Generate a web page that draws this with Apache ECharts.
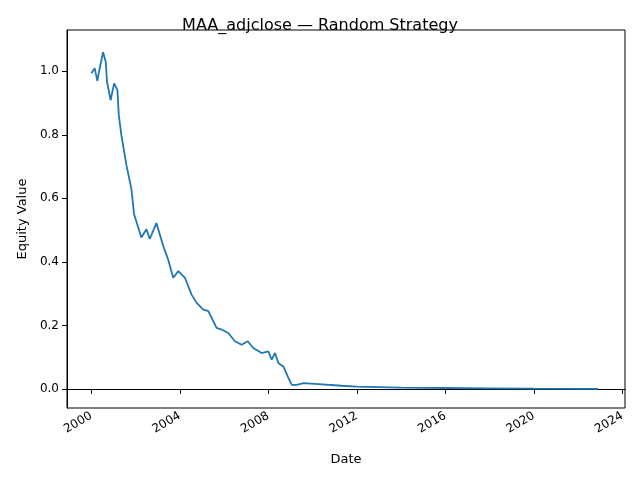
<!DOCTYPE html>
<html>
<head>
<meta charset="utf-8">
<script src="https://cdn.jsdelivr.net/npm/echarts@6/dist/echarts.min.js"></script>
<style>html,body{margin:0;padding:0;background:#fff}#chart{width:640px;height:480px}</style>
</head>
<body>
<div id="chart"></div>
<script>
// equity curve (decimal year, value)
const years = [2000.00, 2000.15, 2000.27, 2000.38, 2000.53, 2000.65, 2000.71, 2000.87, 2001.03, 2001.18,
    2001.24, 2001.36, 2001.59, 2001.81, 2001.93, 2002.26, 2002.49, 2002.64, 2002.94, 2003.25,
    2003.47, 2003.70, 2003.93, 2004.23, 2004.53, 2004.76, 2005.06, 2005.29, 2005.66, 2005.89,
    2006.19, 2006.49, 2006.79, 2007.07, 2007.32, 2007.70, 2008.00, 2008.15, 2008.30, 2008.46,
    2008.68, 2008.91, 2009.06, 2009.28, 2009.59, 2010.27, 2011.32, 2012.0, 2014.0, 2016.0,
    2018.0, 2020.0, 2022.9];
const equity = [0.994, 1.01, 0.97, 1.01, 1.06, 1.03, 0.967, 0.909, 0.962, 0.941,
    0.862, 0.798, 0.703, 0.630, 0.551, 0.477, 0.503, 0.472, 0.522, 0.450,
    0.408, 0.350, 0.371, 0.350, 0.297, 0.271, 0.250, 0.245, 0.192, 0.187,
    0.176, 0.150, 0.139, 0.150, 0.129, 0.113, 0.118, 0.092, 0.113, 0.081,
    0.071, 0.034, 0.013, 0.013, 0.018, 0.015, 0.010, 0.007, 0.004, 0.003,
    0.002, 0.001, 0.0005];
const xTicks = [2000, 2004, 2008, 2012, 2016, 2020, 2024];
const yTicks = [0.0, 0.2, 0.4, 0.6, 0.8, 1.0];

const data = years.map((y, i) => [y, equity[i]]);
const font = "DejaVu Sans";

const chart = echarts.init(document.getElementById("chart"), null, { renderer: "canvas" });
chart.setOption({
    animation: false,
    title: {
        text: "MAA_adjclose \u2014 Random Strategy", left: "center", top: 13,
        textStyle: { fontFamily: font, fontSize: 16, fontWeight: "normal", color: "#000" }
    },
    grid: { left: 67, right: 15, top: 30, bottom: 72, show: true, borderColor: "#000", borderWidth: 1 },
    xAxis: {
        type: "value", min: 1998.9, max: 2024.12,
        name: "Date", nameLocation: "middle", nameGap: 45,
        nameTextStyle: { fontFamily: font, fontSize: 13, color: "#000" },
        axisLine: { show: true, lineStyle: { color: "#000" } },
        axisTick: { show: true, customValues: xTicks, length: 5, lineStyle: { color: "#000" } },
        axisLabel: { customValues: xTicks, formatter: v => String(v), rotate: 30, align: "right",
            fontFamily: font, fontSize: 12, color: "#000", margin: 7 },
        splitLine: { show: false }
    },
    yAxis: {
        type: "value", min: -0.06, max: 1.13,
        name: "Equity Value", nameLocation: "middle", nameGap: 38,
        nameTextStyle: { fontFamily: font, fontSize: 13, color: "#000" },
        axisLine: { show: true, lineStyle: { color: "#000" } },
        axisTick: { show: true, customValues: yTicks, length: 5, lineStyle: { color: "#000" } },
        axisLabel: { customValues: yTicks, formatter: v => v.toFixed(1), fontFamily: font, fontSize: 12, color: "#000" },
        splitLine: { show: false }
    },
    series: [{
        type: "line", data: data, showSymbol: false, silent: true,
        lineStyle: { color: "#1f77b4", width: 1.8 }
    }]
});
</script>
</body>
</html>
